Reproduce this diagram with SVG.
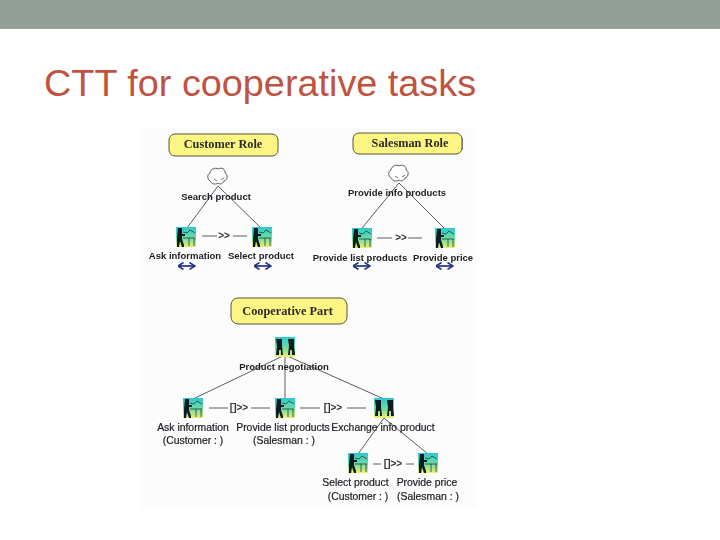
<svg xmlns="http://www.w3.org/2000/svg" width="720" height="540" viewBox="0 0 720 540">
<style>
.t{font-family:"Liberation Sans",Arial,sans-serif;font-size:9.5px;fill:#1c1c22;text-anchor:middle;font-weight:bold;stroke:none}
.s{font-family:"Liberation Sans",Arial,sans-serif;font-size:10.4px;fill:#1c1c22;text-anchor:middle;stroke:#1c1c22;stroke-width:.2}
.h{font-family:"Liberation Serif",serif;font-size:12.3px;font-weight:bold;fill:#2b2b25;text-anchor:middle;stroke:none}
.r{fill:#fdf684;stroke:#55553a;stroke-width:1}
.c{fill:none;stroke:#4a4a4a;stroke-width:.9}
.o{font-family:"Liberation Sans",Arial,sans-serif;font-size:10px;fill:#333;text-anchor:middle;font-weight:bold;stroke:none}
.a{fill:none;stroke:#20308a;stroke-width:1.7;marker-start:url(#ah);marker-end:url(#ah)}
.cl{fill:#fff;stroke:#333;stroke-width:.8}
.fig{fill:#0c1a20;stroke:none}
</style>
<defs>
<filter id="b" x="-5%" y="-5%" width="110%" height="110%"><feGaussianBlur stdDeviation=".35"/></filter>
<linearGradient id="ig" x1="0" y1="0" x2="0" y2="1"><stop offset="0" stop-color="#2cc8d0"/><stop offset=".55" stop-color="#70dca0"/><stop offset="1" stop-color="#f2ee70"/></linearGradient>
<marker id="ah" viewBox="0 0 7 8" refX="6.5" refY="4" markerWidth="7" markerHeight="8" orient="auto-start-reverse" markerUnits="userSpaceOnUse"><path d="M1 .5L6.5 4L1 7.5" fill="none" stroke="#20308a" stroke-width="1.5"/></marker>
<g id="u"><rect x="-10" y="-10" width="20" height="20" fill="url(#ig)"/><path class="fig" d="M-8-9h4v6h3v2h-3v3l2 6v2h-2l-2-6l-1 6h-2v-9z"/><path d="M-3-5l4 1 3-3 5 3M-3 1h12M3 1v8M8 1v8" fill="none" stroke="#24524a" stroke-width=".9"/></g>
<g id="d"><rect x="-10" y="-10" width="20" height="20" fill="url(#ig)"/><path class="fig" d="M-9-8h6v7l1 9h-2v-5h-2v5h-3l1-9zM3-8h6v7l1 9h-3v-5h-2v5h-2l1-9z"/></g>
<g id="k"><path class="cl" d="M-8 4c-3-2-3-7 0-8c0-4 6-6 8-4c3-2 8 0 7 4c3 1 3 7-1 8c-2 4-5 3-6 2c-3 2-6 1-8-2z"/><path d="M-4 2l3 2M3 3l3-2" stroke="#333" stroke-width=".7" fill="none"/></g>
</defs>
<rect width="720" height="540" fill="#fff"/>
<rect width="720" height="29" fill="#939f97"/>
<text x="44" y="96" font-family="'Liberation Sans',Arial,sans-serif" font-size="37.8" fill="#c0533f">CTT for cooperative tasks</text>
<rect x="140" y="128" width="337" height="380" fill="#fbfcfb"/>
<g filter="url(#b)">
<g id="connectors">
<path class="c" d="M218 186L187 228M218 186L262 229M399 183L362 228M399 183L444 228M285 355L193 399M285 355V399M285 355L384 399M384 418L358 454M384 418L428 454"/>
<path class="c" d="M202 236H217M233 236H247M377 238H392M408 238H422M209 408H228M251 408H270M300 408H320M347 408H366M373 464H381M406 464H414"/>
<path class="a" d="M178 266H195"/><path class="a" d="M254 266H271"/><path class="a" d="M353 266H370"/><path class="a" d="M436 266H453"/>
</g>
<text class="o" x="224" y="239">&gt;&gt;</text>
<text class="o" x="401" y="241">&gt;&gt;</text>
<text class="o" x="239" y="411">[]&gt;&gt;</text>
<text class="o" x="333" y="411">[]&gt;&gt;</text>
<text class="o" x="393" y="467">[]&gt;&gt;</text>
<g id="customer-role"><rect class="r" x="169" y="134" width="109" height="22" rx="6"/><text class="h" x="223" y="148">Customer Role</text></g>
<g id="salesman-role"><rect class="r" x="353" y="133" width="109" height="21" rx="6"/><path d="M462.500 138V150" stroke="#777" stroke-width="1"/><text class="h" x="410" y="147">Salesman Role</text></g>
<g id="cooperative-part"><rect class="r" x="231" y="298" width="116" height="26" rx="7"/><text class="h" x="287.500" y="315">Cooperative Part</text></g>
<g id="search-product"><use href="#k" x="218" y="177"/><text class="t" x="216" y="200">Search product</text></g>
<g id="ask-information"><use href="#u" x="186" y="237"/><text class="t" x="185" y="259">Ask information</text></g>
<g id="select-product"><use href="#u" x="262" y="237"/><text class="t" x="261" y="259">Select product</text></g>
<g id="provide-info"><use href="#k" x="399" y="174"/><text class="t" x="397" y="196">Provide info products</text></g>
<g id="provide-list"><use href="#u" x="362" y="238"/><text class="t" x="360" y="261">Provide list products</text></g>
<g id="provide-price"><use href="#u" x="445" y="238"/><text class="t" x="443" y="261">Provide price</text></g>
<g id="product-negotiation"><use href="#d" x="285" y="347"/><text class="t" x="284" y="370">Product negotiation</text></g>
<g id="ask-information-2"><use href="#u" x="193" y="408"/><text class="s" x="193" y="431">Ask information</text><text class="s" x="193" y="444">(Customer : )</text></g>
<g id="provide-list-2"><use href="#u" x="285" y="408"/><text class="s" x="283" y="431">Provide list products</text><text class="s" x="284" y="444">(Salesman : )</text></g>
<g id="exchange-info"><use href="#d" x="384" y="408"/><text class="s" x="383" y="431">Exchange info product</text></g>
<g id="select-product-2"><use href="#u" x="358" y="463"/><text class="s" x="355.500" y="486">Select product</text><text class="s" x="358" y="500">(Customer : )</text></g>
<g id="provide-price-2"><use href="#u" x="428" y="463"/><text class="s" x="427" y="486">Provide price</text><text class="s" x="428" y="500">(Salesman : )</text></g>
</g>
</svg>
